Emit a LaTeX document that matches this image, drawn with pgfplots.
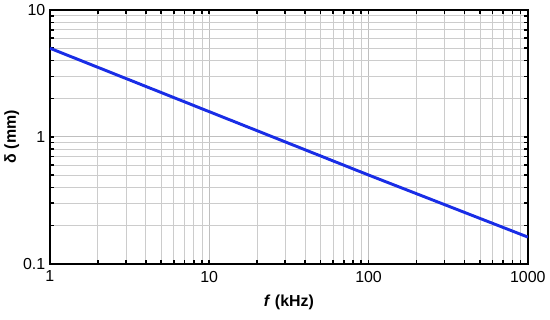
\documentclass[border=0pt]{standalone}
\usepackage{pgfplots}
\pgfplotsset{compat=1.18}
\usepackage{fontspec}
\setmainfont{Liberation Sans}
\definecolor{lineblue}{RGB}{25,45,230}
\begin{document}
\begin{tikzpicture}[font=\fontsize{12}{14}\selectfont]
  \begin{axis}[
      scale only axis,
      width=360pt, height=191pt,
      xmode=log, ymode=log,
      xmin=1, xmax=1000, ymin=0.1, ymax=10,
      xtick={1,10,100,1000}, xticklabels={1,10,100,1000},
      ytick={0.1,1,10}, yticklabels={0.1,1,10},
      minor xtick={2,3,4,5,6,7,8,9,20,30,40,50,60,70,80,90,200,300,400,500,600,700,800,900},
      minor ytick={0.2,0.3,0.4,0.5,0.6,0.7,0.8,0.9,2,3,4,5,6,7,8,9},
      grid=both,
      major grid style={gray!50, line width=0.6pt},
      minor grid style={gray!40, line width=0.6pt},
      axis line style={black, line width=1.6pt},
      tick align=inside,
      major tick length=3pt, minor tick length=3pt,
      every tick/.style={black, line width=1.2pt},
      xticklabel style={yshift=-2pt},
      xlabel={\textbf{\textit{f}} \textbf{(kHz)}},
      ylabel={\textbf{δ (mm)}},
      xlabel style={font=\fontsize{12}{14}\selectfont, yshift=-3pt},
      ylabel style={font=\fontsize{12}{14}\selectfont, yshift=-4pt},
      /pgf/number format/assume math mode=true,
    ]
    \addplot[lineblue, line width=2.2pt] coordinates {
      (1,5.0) (10,1.58) (100,0.50) (1000,0.162)
    };
  \end{axis}
  \path (current axis.south) ++(0,-42pt);
\end{tikzpicture}
\end{document}
